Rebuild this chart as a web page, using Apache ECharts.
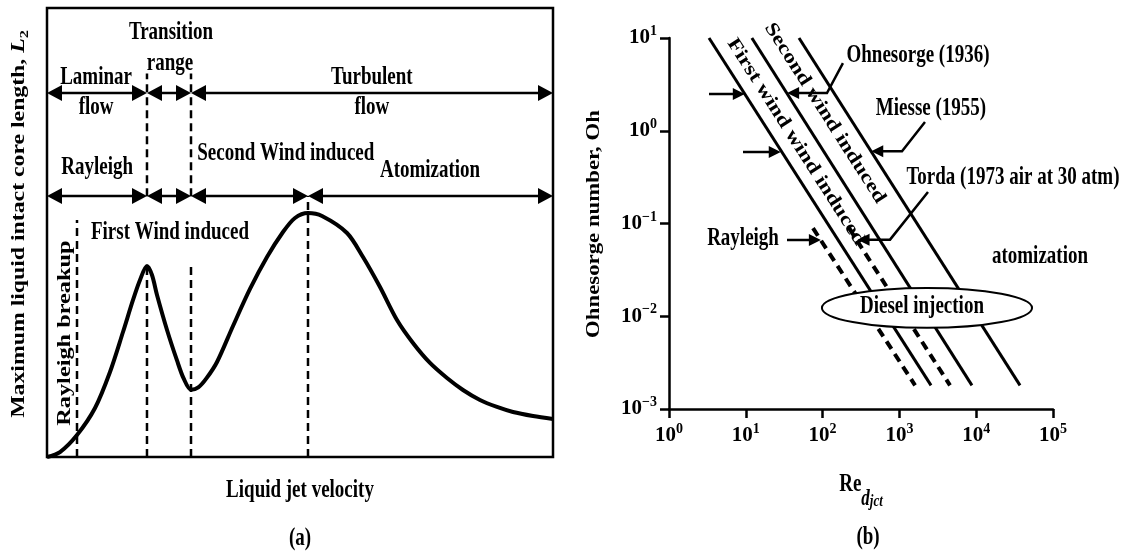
<!DOCTYPE html>
<html>
<head>
<meta charset="utf-8">
<script src="https://cdn.jsdelivr.net/npm/echarts/dist/echarts.min.js"></script>
<style>
  html, body { margin: 0; padding: 0; background: #fff; }
  #chart { width: 1125px; height: 556px; }
</style>
</head>
<body>
<div id="chart"></div>
<script>
// ---------------- Panel (a): intact core length vs. jet velocity (relative units) ----------------
const velocity = [0, 2.57, 5.93, 9.49, 12.45, 15.02, 17.0, 18.38, 19.76, 20.75, 21.74, 23.72, 25.69,
  27.0, 28.46, 29.9, 31.5, 33.6, 36.76, 40.12, 43.48, 46.64, 49.01, 51.58, 54.35, 59.29, 62.45, 65.81,
  69.17, 72.33, 75.69, 79.05, 82.21, 85.57, 88.93, 92.09, 96.05, 100];
const coreLength = [0, 1.11, 4.90, 10.91, 18.93, 27.84, 34.97, 39.42, 42.54, 40.53, 36.08, 28.29, 21.5,
  17.5, 15.0, 15.5, 17.5, 21.16, 29.18, 37.42, 44.54, 50.11, 53.23, 54.34, 53.67, 49.89, 44.54, 37.86,
  30.51, 25.39, 20.94, 17.59, 14.92, 12.69, 11.14, 10.02, 9.13, 8.46];

// regime boundaries on the velocity scale
const rayleighBreakupVelocity = 5.93;
const flowRegimeBounds = [0, 19.76, 28.46, 100];           // laminar | transition | turbulent
const breakupRegimeBounds = [0, 19.76, 28.46, 51.58, 100]; // Rayleigh | 1st wind | 2nd wind | atomization

// ---------------- Panel (b): Ohnesorge number vs. Reynolds number ----------------
const reTickExponents = [0, 1, 2, 3, 4, 5];
const ohTickExponents = [-3, -2, -1, 0, 1];
const ohSolidEnds = [10, 0.0018];
const reBoundaryFirstWind = [3.32, 2580];
const reOhnesorge = [12.0, 8800];
const reMiesse = [49.3, 37200];
const ohDashedEnds = [0.089, 0.0018];
const reRayleigh = [75, 1600];
const reTorda = [221, 4560];
const dieselRe = [98, 2290, 53300];       // left, centre, right
const dieselOh = [0.0075, 0.0123, 0.0202]; // bottom, centre, top

const FONT = '"Liberation Serif", "Times New Roman", serif';
const WEIGHT = 'bold';
const FS = 19;
const TALL = 1.33;

const chart = echarts.init(document.getElementById('chart'), null, { renderer: 'canvas' });

// ---------- drawing helpers ----------
function headPolygon(tip, from, len, half) {
  const dx = tip[0] - from[0], dy = tip[1] - from[1];
  const d = Math.hypot(dx, dy) || 1;
  const ux = dx / d, uy = dy / d;
  const bx = tip[0] - ux * len, by = tip[1] - uy * len;
  return {
    type: 'polygon',
    shape: { points: [tip, [bx - uy * half, by + ux * half], [bx + uy * half, by - ux * half]] },
    style: { fill: '#000', stroke: 'none' }
  };
}
function pullBack(tip, from, dist) {
  const dx = tip[0] - from[0], dy = tip[1] - from[1];
  const d = Math.hypot(dx, dy) || 1;
  return [tip[0] - dx / d * dist, tip[1] - dy / d * dist];
}
function arrowGroup(pts, startHead, endHead, lw, len, half) {
  const n = pts.length;
  const p = pts.map(q => q.slice());
  const children = [];
  if (endHead) {
    children.push(headPolygon(pts[n - 1], pts[n - 2], len, half));
    p[n - 1] = pullBack(pts[n - 1], pts[n - 2], len * 0.6);
  }
  if (startHead) {
    children.push(headPolygon(pts[0], pts[1], len, half));
    p[0] = pullBack(pts[0], pts[1], len * 0.6);
  }
  children.unshift({ type: 'polyline', shape: { points: p }, style: { stroke: '#000', lineWidth: lw, fill: 'none' } });
  return { type: 'group', children };
}

function arrowSeries(axisIndex, arrows, lw, len, half) {
  return {
    type: 'custom', xAxisIndex: axisIndex, yAxisIndex: axisIndex, clip: false, silent: true, z: 6,
    encode: { x: 0, y: 1 },
    data: arrows.map(a => a.pts[0]),
    renderItem: (params, api) => {
      const a = arrows[params.dataIndex];
      return arrowGroup(a.pts.map(q => api.coord(q)), a.start, a.end, lw, len, half);
    }
  };
}

function textSeries(axisIndex, labels) {
  return {
    type: 'custom', xAxisIndex: axisIndex, yAxisIndex: axisIndex, clip: false, silent: true, z: 8,
    encode: { x: 0, y: 1 },
    data: labels.map(l => l.at),
    renderItem: (params, api) => {
      const l = labels[params.dataIndex];
      const p = api.coord(l.at);
      return {
        type: 'text', x: p[0], y: p[1],
        rotation: (l.rot || 0) * Math.PI / 180,
        scaleX: l.sx || 1, scaleY: l.sy || TALL,
        style: {
          text: l.text, fill: '#000', fontFamily: FONT, fontSize: FS,
          fontWeight: WEIGHT, align: 'center', verticalAlign: 'middle'
        }
      };
    }
  };
}

// ---------- panel (a) annotations ----------
const FLOW_ROW = 81.07, BREAKUP_ROW = 58.13;
const regimeArrows = [];
for (let i = 0; i < flowRegimeBounds.length - 1; i++) {
  regimeArrows.push({ pts: [[flowRegimeBounds[i], FLOW_ROW], [flowRegimeBounds[i + 1], FLOW_ROW]], start: true, end: true });
}
for (let i = 0; i < breakupRegimeBounds.length - 1; i++) {
  regimeArrows.push({ pts: [[breakupRegimeBounds[i], BREAKUP_ROW], [breakupRegimeBounds[i + 1], BREAKUP_ROW]], start: true, end: true });
}
const guideLines = [
  [rayleighBreakupVelocity, 0, 52.8],
  [flowRegimeBounds[1], 0, 43.4], [flowRegimeBounds[1], 58.1, 85.4],
  [flowRegimeBounds[2], 0, 43.4], [flowRegimeBounds[2], 58.1, 85.4],
  [breakupRegimeBounds[3], 0, BREAKUP_ROW]
];
const panelALabels = [
  { text: 'Transition', at: [24.5, 94.6] },
  { text: 'range', at: [24.3, 87.6] },
  { text: 'Laminar', at: [9.7, 84.6] },
  { text: 'flow', at: [9.7, 77.8] },
  { text: 'Turbulent', at: [64.2, 84.6] },
  { text: 'flow', at: [64.2, 77.8] },
  { text: 'Rayleigh', at: [9.9, 64.4] },
  { text: 'Second Wind induced', at: [47.2, 67.5] },
  { text: 'Atomization', at: [75.7, 63.9] },
  { text: 'First Wind induced', at: [24.3, 49.9] },
  { text: 'Rayleigh breakup', at: [3.5, 27.6], rot: 90, sx: 1.28, sy: 1 }
];

// ---------- panel (b) annotations ----------
const pointerArrows = [
  { pts: [[3.32, 2.49], [9.7, 2.49]], end: true },
  { pts: [[9.2, 0.59], [28.5, 0.59]], end: true },
  { pts: [[34.4, 0.0664], [95, 0.0664]], end: true },
  { pts: [[184, 5.37], [114, 2.55], [34.5, 2.55]], end: true },
  { pts: [[2154, 1.24], [1081, 0.6], [430, 0.6]], end: true },
  { pts: [[2357, 0.219], [755, 0.067], [285, 0.067]], end: true }
];
const DIAG = -57.5;
const panelBLabels = [
  { text: 'Ohnesorge (1936)', at: [1746, 6.56] },
  { text: 'Miesse (1955)', at: [2578, 1.76] },
  { text: 'Torda (1973 air at 30 atm)', at: [30100, 0.317] },
  { text: 'Rayleigh', at: [9.2, 0.0698] },
  { text: 'atomization', at: [67700, 0.0436] },
  { text: 'First wind wind induced', at: [45, 0.757], rot: DIAG, sx: 1.22, sy: 1 },
  { text: 'Second wind induced', at: [107, 1.55], rot: DIAG, sx: 1.22, sy: 1 }
];

function powerLabel(v) {
  const n = Math.round(Math.log10(v));
  return '{b|10}{s|' + (n < 0 ? '\u2212' + (-n) : String(n)) + '}';
}
const tickRich = {
  b: { fontFamily: FONT, fontSize: 21, fontWeight: WEIGHT, color: '#000', lineHeight: 27 },
  s: { fontFamily: FONT, fontSize: 14, fontWeight: WEIGHT, color: '#000', verticalAlign: 'top', lineHeight: 14 }
};
const blackAxis = { show: true, lineStyle: { color: '#000', width: 2.5 } };

const option = {
  animation: false,
  backgroundColor: '#fff',
  grid: [
    { left: 47, top: 8, width: 506, height: 449, show: true, borderColor: '#000', borderWidth: 2.5, backgroundColor: 'transparent' },
    { left: 669, top: 38, width: 384, height: 371 }
  ],
  xAxis: [
    { gridIndex: 0, type: 'value', min: 0, max: 100, show: false },
    {
      gridIndex: 1, type: 'log', logBase: 10, min: Math.pow(10, reTickExponents[0]),
      max: Math.pow(10, reTickExponents[reTickExponents.length - 1]),
      axisLine: blackAxis, splitLine: { show: false },
      axisTick: { show: true, length: 9, lineStyle: { color: '#000', width: 2.5 } },
      axisLabel: { margin: 13, formatter: powerLabel, rich: tickRich }
    }
  ],
  yAxis: [
    { gridIndex: 0, type: 'value', min: 0, max: 100, show: false },
    {
      gridIndex: 1, type: 'log', logBase: 10, min: Math.pow(10, ohTickExponents[0]),
      max: Math.pow(10, ohTickExponents[ohTickExponents.length - 1]),
      axisLine: blackAxis, splitLine: { show: false },
      axisTick: { show: true, length: 9, lineStyle: { color: '#000', width: 2.5 } },
      axisLabel: { margin: 12, formatter: powerLabel, rich: tickRich }
    }
  ],
  series: [
    {
      type: 'line', xAxisIndex: 0, yAxisIndex: 0, smooth: 0.3, symbol: 'none', silent: true,
      data: velocity.map((v, i) => [v, coreLength[i]]),
      lineStyle: { color: '#000', width: 4 }, z: 4
    },
    {
      type: 'custom', xAxisIndex: 0, yAxisIndex: 0, clip: false, silent: true, z: 3,
      encode: { x: 0, y: 1 },
      data: guideLines.map(g => [g[0], g[1], g[2]]),
      renderItem: (params, api) => {
        const a = api.coord([api.value(0), api.value(1)]);
        const b = api.coord([api.value(0), api.value(2)]);
        return {
          type: 'line', shape: { x1: a[0], y1: a[1], x2: b[0], y2: b[1] },
          style: { stroke: '#000', lineWidth: 2.5, lineDash: [8, 5] }
        };
      }
    },
    arrowSeries(0, regimeArrows, 2.5, 15, 8),
    textSeries(0, panelALabels),

    ...[reBoundaryFirstWind, reOhnesorge, reMiesse].map(re => ({
      type: 'line', xAxisIndex: 1, yAxisIndex: 1, symbol: 'none', silent: true, z: 3,
      data: [[re[0], ohSolidEnds[0]], [re[1], ohSolidEnds[1]]],
      lineStyle: { color: '#000', width: 3 }
    })),
    ...[reRayleigh, reTorda].map(re => ({
      type: 'line', xAxisIndex: 1, yAxisIndex: 1, symbol: 'none', silent: true, z: 3,
      data: [[re[0], ohDashedEnds[0]], [re[1], ohDashedEnds[1]]],
      lineStyle: { color: '#000', width: 4, type: [9, 6] }
    })),
    arrowSeries(1, pointerArrows, 2.5, 12, 6),
    textSeries(1, panelBLabels),
    {
      // diesel injection region
      type: 'custom', xAxisIndex: 1, yAxisIndex: 1, clip: false, silent: true, z: 7,
      encode: { x: 0, y: 1 },
      data: [[dieselRe[1], dieselOh[1]]],
      renderItem: (params, api) => {
        const l = api.coord([dieselRe[0], dieselOh[1]]);
        const r = api.coord([dieselRe[2], dieselOh[1]]);
        const t = api.coord([dieselRe[1], dieselOh[2]]);
        const b = api.coord([dieselRe[1], dieselOh[0]]);
        const cx = (l[0] + r[0]) / 2, cy = (t[1] + b[1]) / 2;
        return {
          type: 'group', children: [
            { type: 'ellipse', shape: { cx, cy, rx: (r[0] - l[0]) / 2, ry: (b[1] - t[1]) / 2 },
              style: { fill: '#fff', stroke: '#000', lineWidth: 2 } },
            { type: 'text', x: cx - 5, y: cy - 1, scaleY: TALL,
              style: { text: 'Diesel injection', fill: '#000', fontFamily: FONT, fontSize: FS,
                fontWeight: WEIGHT, align: 'center', verticalAlign: 'middle' } }
          ]
        };
      }
    }
  ],
  graphic: [
    {
      type: 'text', x: 19, y: 224, rotation: Math.PI / 2, scaleX: 1.25,
      style: {
        text: '{n|Maximum liquid intact core length, }{i|L}{s|2}',
        align: 'center', verticalAlign: 'middle',
        rich: {
          n: { fontFamily: FONT, fontSize: FS, fontWeight: WEIGHT, fill: '#000', lineHeight: 24 },
          i: { fontFamily: FONT, fontSize: FS, fontWeight: WEIGHT, fontStyle: 'italic', fill: '#000', lineHeight: 24 },
          s: { fontFamily: FONT, fontSize: 13, fontWeight: WEIGHT, fill: '#000', verticalAlign: 'bottom', lineHeight: 13 }
        }
      }
    },
    { type: 'text', x: 300, y: 490, scaleY: TALL,
      style: { text: 'Liquid jet velocity', fontFamily: FONT, fontSize: FS, fontWeight: WEIGHT, fill: '#000', align: 'center', verticalAlign: 'middle' } },
    { type: 'text', x: 300, y: 538, scaleY: TALL,
      style: { text: '(a)', fontFamily: FONT, fontSize: FS, fontWeight: WEIGHT, fill: '#000', align: 'center', verticalAlign: 'middle' } },
    { type: 'text', x: 594, y: 224, rotation: Math.PI / 2, scaleX: 1.2,
      style: { text: 'Ohnesorge number, Oh', fontFamily: FONT, fontSize: FS, fontWeight: WEIGHT, fill: '#000', align: 'center', verticalAlign: 'middle' } },
    {
      type: 'text', x: 861, y: 484, scaleY: TALL,
      style: {
        text: '{b|Re}{d|d}{j|jct}', align: 'center', verticalAlign: 'middle',
        rich: {
          b: { fontFamily: FONT, fontSize: FS, fontWeight: WEIGHT, fill: '#000', lineHeight: 40 },
          d: { fontFamily: FONT, fontSize: 17, fontWeight: WEIGHT, fontStyle: 'italic', fill: '#000', verticalAlign: 'bottom', lineHeight: 24 },
          j: { fontFamily: FONT, fontSize: 13, fontWeight: WEIGHT, fontStyle: 'italic', fill: '#000', verticalAlign: 'bottom', lineHeight: 8 }
        }
      }
    },
    { type: 'text', x: 868, y: 537, scaleY: TALL,
      style: { text: '(b)', fontFamily: FONT, fontSize: FS, fontWeight: WEIGHT, fill: '#000', align: 'center', verticalAlign: 'middle' } }
  ]
};
chart.setOption(option);
</script>
</body>
</html>
